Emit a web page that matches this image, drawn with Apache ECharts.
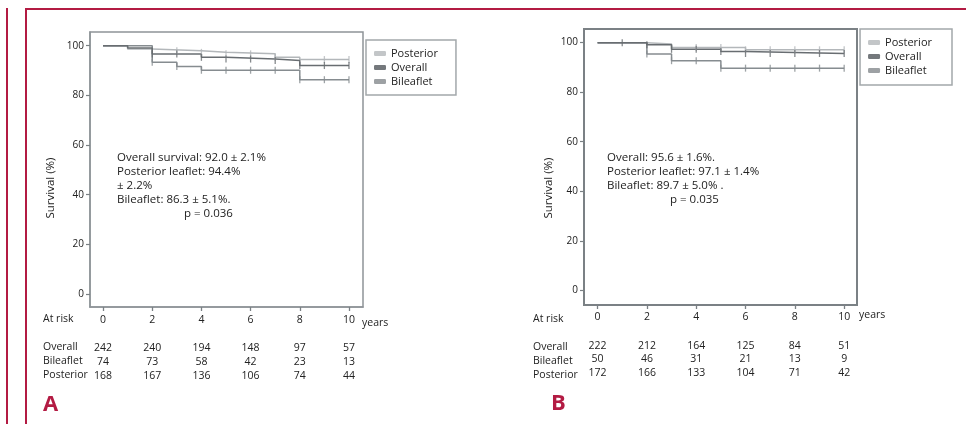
<!DOCTYPE html>
<html>
<head>
<meta charset="utf-8">
<script src="https://cdn.jsdelivr.net/npm/echarts@6/dist/echarts.min.js"></script>
<style>html,body{margin:0;padding:0;background:#fff}#c{width:966px;height:424px}</style>
</head>
<body>
<div id="c"></div>
<script>
// ---- data ----
const yearTicks = [0, 2, 4, 6, 8, 10];
const survivalTicks = [0, 20, 40, 60, 80, 100];
const seriesNames = ['Posterior', 'Overall', 'Bileaflet'];

// Panel A Kaplan-Meier curves [year, survival %]
const A_posterior = [[0,100],[1,98.7],[2,98.0],[4,97.3],[5,96.7],[7,95.3],[8,94.4],[10,94.4]];
const A_overall   = [[0,100],[1,99.1],[2,96.6],[4,95.3],[5,94.6],[7,94.0],[8,92.0],[10,92.0]];
const A_bileaflet = [[0,100],[2,93.3],[3,91.6],[4,90.1],[8,86.3],[10,86.3]];
// censor times
const A_posterior_cens = [3,4,5,6,7,9,10];
const A_overall_cens   = [2,3,4,5,6,7,8,9,10];
const A_bileaflet_cens = [2,3,4,5,6,7,8,9,10];
// at risk
const A_risk_overall   = [242,240,194,148,97,57];
const A_risk_bileaflet = [74,73,58,42,23,13];
const A_risk_posterior = [168,167,136,106,74,44];

// Panel B
const B_posterior = [[0,100],[2,99.4],[3,98.0],[6,97.1],[10,97.1]];
const B_overall   = [[0,100],[2,99.1],[3,97.3],[5,96.4],[6,95.6],[10,95.6]];
const B_bileaflet = [[0,100],[2,95.4],[3,92.7],[5,89.7],[10,89.7]];
const B_posterior_cens = [4,5,6,7,8,9,10];
const B_overall_cens   = [1,2,3,4,5,6,7,8,9,10];
const B_bileaflet_cens = [2,3,4,5,6,7,8,9,10];
const B_risk_overall   = [222,212,164,125,84,51];
const B_risk_bileaflet = [50,46,31,21,13,9];
const B_risk_posterior = [172,166,133,104,71,42];

const A_text = ['Overall survival: 92.0 \u00b1 2.1%', 'Posterior leaflet: 94.4%', '\u00b1 2.2%', 'Bileaflet: 86.3 \u00b1 5.1%.'];
const A_p = 'p = 0.036';
const B_text = ['Overall: 95.6 \u00b1 1.6%.', 'Posterior leaflet: 97.1 \u00b1 1.4%', 'Bileaflet: 89.7 \u00b1 5.0% .'];
const B_p = 'p = 0.035';

// ---- styles ----
const FONT = 'Open Sans';
const TXT = '#222';
const RED = '#b31b43';
const lineColors = {Posterior: '#b3b7ba', Overall: '#686d71', Bileaflet: '#868c90'};
const swatchColors = {Posterior: '#c3c6c8', Overall: '#74787c', Bileaflet: '#9da1a4'};

function stepAt(curve, t) {
  let v = curve[0][1];
  for (const p of curve) { if (p[0] <= t) v = p[1]; }
  return v;
}

const chart = echarts.init(document.getElementById('c'), null, {renderer: 'canvas'});

const grids = [
  {left: 90, top: 32, width: 273, height: 275, show: true, borderColor: '#8e9498', borderWidth: 1.5, backgroundColor: 'transparent'},
  {left: 584, top: 29, width: 273, height: 276, show: true, borderColor: '#7b8185', borderWidth: 2, backgroundColor: 'transparent'}
];
const xr = [[-0.53, 10.57], [-0.55, 10.52]];
const yr = [[-5.2, 105.5], [-5.9, 105.5]];
const labMargin = [8, 7];

const xAxes = [];
const yAxes = [];
[0, 1].forEach(g => {
  xAxes.push({
    gridIndex: g, type: 'value', min: xr[g][0], max: xr[g][1], position: 'bottom',
    splitLine: {show: false},
    axisLine: {show: true, onZero: false, lineStyle: {color: g ? '#7b8185' : '#8e9498', width: g ? 2 : 1.5}},
    axisTick: {show: true, customValues: yearTicks, length: 4, lineStyle: {color: '#7b8185', width: 1.3}},
    axisLabel: {customValues: yearTicks, margin: labMargin[g], fontFamily: FONT, fontSize: 10.5, color: TXT}
  });
  yAxes.push({
    gridIndex: g, type: 'value', min: yr[g][0], max: yr[g][1], position: 'left',
    splitLine: {show: false},
    axisLine: {show: true, onZero: false, lineStyle: {color: g ? '#7b8185' : '#8e9498', width: g ? 2 : 1.5}},
    axisTick: {show: true, customValues: survivalTicks, length: 4, lineStyle: {color: '#7b8185', width: 1.2}},
    axisLabel: {customValues: survivalTicks, margin: 6, fontFamily: FONT, fontSize: 10, color: TXT}
  });
});
const riskRows = [
  [A_risk_overall, A_risk_bileaflet, A_risk_posterior],
  [B_risk_overall, B_risk_bileaflet, B_risk_posterior]
];
const riskOffsets = [[28, 42, 56], [29, 42, 56]];
[0, 1].forEach(g => {
  riskRows[g].forEach((arr, i) => {
    xAxes.push({
      gridIndex: g, type: 'value', min: xr[g][0], max: xr[g][1], position: 'bottom', offset: riskOffsets[g][i],
      splitLine: {show: false}, axisLine: {show: false, onZero: false}, axisTick: {show: false},
      axisLabel: {customValues: yearTicks, margin: labMargin[g], fontFamily: FONT, fontSize: 10.5, color: TXT,
        formatter: v => String(arr[yearTicks.indexOf(Math.round(v))])}
    });
  });
});

const curves = [
  {Posterior: A_posterior, Overall: A_overall, Bileaflet: A_bileaflet},
  {Posterior: B_posterior, Overall: B_overall, Bileaflet: B_bileaflet}
];
const cens = [
  {Posterior: A_posterior_cens, Overall: A_overall_cens, Bileaflet: A_bileaflet_cens},
  {Posterior: B_posterior_cens, Overall: B_overall_cens, Bileaflet: B_bileaflet_cens}
];
const series = [];
[0, 1].forEach(g => {
  ['Posterior', 'Bileaflet', 'Overall'].forEach(name => {
    series.push({
      name: name, type: 'line', xAxisIndex: g, yAxisIndex: g, step: 'end', symbol: 'none',
      lineStyle: {color: lineColors[name], width: 1.5}, itemStyle: {color: lineColors[name]},
      data: curves[g][name], animation: false, z: 3
    });
    series.push({
      name: name + ' censored', type: 'scatter', xAxisIndex: g, yAxisIndex: g, symbol: 'rect', symbolSize: [1.3, 7],
      itemStyle: {color: lineColors[name]},
      data: cens[g][name].map(t => [t, stepAt(curves[g][name], t)]), animation: false, z: 4
    });
  });
});

const legendBase = {
  orient: 'vertical', icon: 'roundRect', itemWidth: 12, itemHeight: 5, itemGap: 1,
  borderColor: '#a3a8ab', borderWidth: 1.5, backgroundColor: '#fff',
  textStyle: {fontFamily: FONT, fontSize: 11, color: TXT, lineHeight: 13},
  selectedMode: false,
  data: seriesNames.map(n => ({name: n, itemStyle: {color: swatchColors[n]}}))
};
const legends = [
  Object.assign({}, legendBase, {left: 366, top: 40, padding: [7, 18, 7, 8]}),
  Object.assign({}, legendBase, {right: 14, top: 29, padding: [7, 20, 8, 8]})
];

function txt(x, y, s, extra) {
  return Object.assign({type: 'text', x: x, y: y, silent: true,
    style: Object.assign({text: s, fontFamily: FONT, fontSize: 11.5, fill: TXT, align: 'left', verticalAlign: 'middle'}, extra || {})});
}
const graphics = [
  {type: 'line', shape: {x1: 7, y1: 8, x2: 7, y2: 424}, style: {stroke: RED, lineWidth: 2}},
  {type: 'line', shape: {x1: 26, y1: 9, x2: 26, y2: 424}, style: {stroke: RED, lineWidth: 2}},
  {type: 'line', shape: {x1: 25, y1: 9, x2: 966, y2: 9}, style: {stroke: RED, lineWidth: 2}},
  txt(51, 188, 'Survival (%)', {align: 'center', fontSize: 11.5}),
  txt(549, 188, 'Survival (%)', {align: 'center', fontSize: 11.5}),
  txt(43, 319, 'At risk', {fontSize: 10.5}),
  txt(43, 347, 'Overall', {fontSize: 10.5}),
  txt(43, 361, 'Bileaflet', {fontSize: 10.5}),
  txt(43, 375, 'Posterior', {fontSize: 10.5}),
  txt(362, 323, 'years', {fontSize: 10.5}),
  txt(533, 319, 'At risk', {fontSize: 10.5}),
  txt(533, 347, 'Overall', {fontSize: 10.5}),
  txt(533, 361, 'Bileaflet', {fontSize: 10.5}),
  txt(533, 375, 'Posterior', {fontSize: 10.5}),
  txt(859, 315, 'years', {fontSize: 10.5}),
  txt(43, 405, 'A', {fontSize: 22, fontWeight: 'bold', fill: RED}),
  txt(551, 404, 'B', {fontSize: 22, fontWeight: 'bold', fill: RED})
];
graphics[3].rotation = Math.PI / 2;
graphics[4].rotation = Math.PI / 2;
A_text.forEach((s, i) => graphics.push(txt(117, 158 + 14 * i, s)));
graphics.push(txt(184, 214, A_p));
B_text.forEach((s, i) => graphics.push(txt(607, 158 + 14 * i, s)));
graphics.push(txt(670, 200, B_p));

chart.setOption({
  animation: false,
  backgroundColor: '#fff',
  grid: grids,
  xAxis: xAxes,
  yAxis: yAxes,
  legend: legends,
  series: series,
  graphic: graphics
});
</script>
</body>
</html>
